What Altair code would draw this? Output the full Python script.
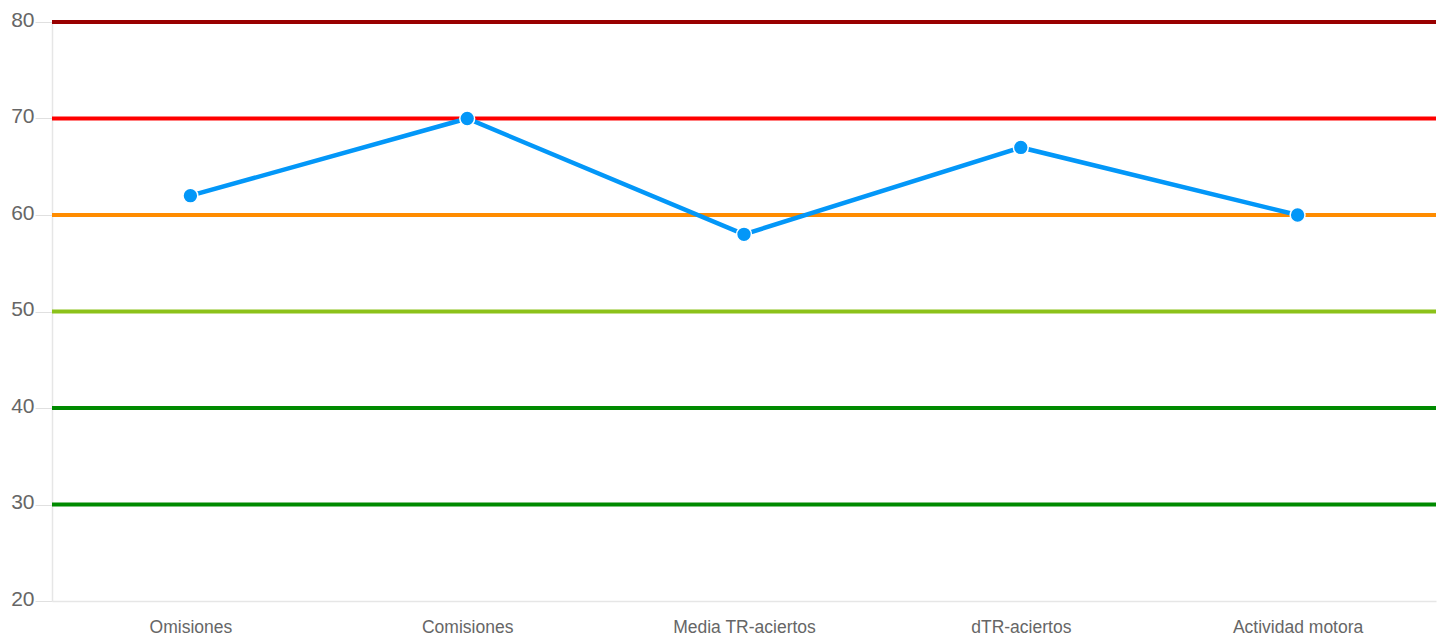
import altair as alt
import pandas as pd

categories = ["Omisiones", "Comisiones", "Media TR-aciertos", "dTR-aciertos", "Actividad motora"]
values = [62, 70, 58, 67, 60]

rule_levels = [80, 70, 60, 50, 40, 30]
rule_colors = ["#990000", "#ff0000", "#ff8c00", "#8cc21a", "#008a00", "#008a00"]

df = pd.DataFrame({"cat": categories, "val": values})
rules = pd.DataFrame({"level": rule_levels, "color": rule_colors})

FONT = "Liberation Sans"

x_enc = alt.X("cat:N", sort=categories, title=None,
              scale=alt.Scale(paddingInner=0, paddingOuter=0),
              axis=alt.Axis(labelAngle=0, labelFontSize=17.5, labelColor="#666666",
                            labelFont=FONT, ticks=False, domainColor="#e6e6e6",
                            domainWidth=1.5, labelPadding=17, grid=False))
y_scale = alt.Scale(domain=[20, 80], nice=False, zero=False)
y_axis = alt.Axis(values=[20, 30, 40, 50, 60, 70, 80], labelFontSize=21, labelColor="#666666",
                  labelFont=FONT, tickColor="#e0e0e0", tickSize=17, domainColor="#e6e6e6",
                  domainWidth=1.5, labelPadding=1, labelOffset=-2, grid=False)

rule_layer = alt.Chart(rules).mark_rule(strokeWidth=4).encode(
    y=alt.Y("level:Q", scale=y_scale, axis=y_axis, title=None),
    color=alt.Color("color:N", scale=None),
)

line_layer = alt.Chart(df).mark_line(color="#0397f8", strokeWidth=4.5).encode(
    x=x_enc,
    y=alt.Y("val:Q", scale=y_scale, axis=y_axis, title=None),
)

point_layer = alt.Chart(df).mark_point(filled=True, color="#0397f8", size=220, opacity=1,
                                       stroke="white", strokeWidth=1.5).encode(
    x=alt.X("cat:N", sort=categories),
    y=alt.Y("val:Q", scale=y_scale),
)

chart = alt.layer(rule_layer, line_layer, point_layer).properties(
    width=1384, height=579,
    autosize=alt.AutoSizeParams(type="none"),
    padding={"left": 44, "top": 14, "right": 4, "bottom": 40},
).configure_view(stroke=None)

chart.save("out.html", embed_options={"renderer": "svg", "actions": False})
